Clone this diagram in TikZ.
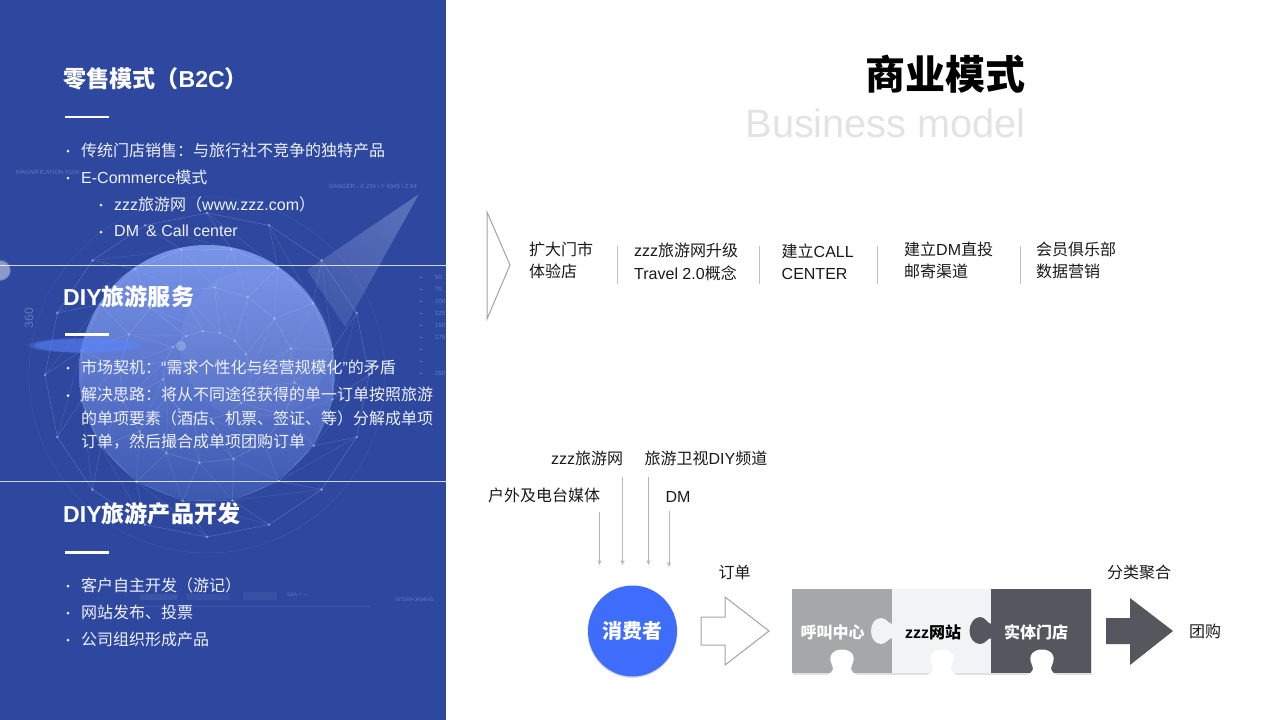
\documentclass[tikz,border=0pt]{standalone}
\usepackage{fontspec}
\setmainfont{Liberation Sans}
\newfontfamily\cjk{Noto Sans CJK SC}
\newcommand{\cj}[1]{{\cjk #1}}
\newcommand{\cb}[1]{{\cjk\bfseries #1}}
\usetikzlibrary{arrows.meta,shapes.geometric,calc,fadings}
\definecolor{panel}{HTML}{2E489F}
\definecolor{globeT}{HTML}{7995EA}
\definecolor{globeM}{HTML}{6581DB}
\definecolor{globeB}{HTML}{3D58AF}
\definecolor{netc}{HTML}{B9C9F5}
\definecolor{ink}{HTML}{1A1A1A}
\definecolor{rulec}{HTML}{BFC3C4}
\definecolor{arrowc}{HTML}{A0A3A6}
\definecolor{feedc}{HTML}{B4B8B8}
\definecolor{pgrey}{HTML}{A5A8A8}
\definecolor{plight}{HTML}{F1F3F4}
\definecolor{pdark}{HTML}{54575E}
\definecolor{blueb}{HTML}{3E6DFB}
\definecolor{soft}{HTML}{EEF1FA}
\tikzset{
  x=1pt,y=-1pt,
  lefttext/.style={text=soft,anchor=west,inner sep=0pt,font=\fontsize{16}{16}\selectfont},
  head/.style={text=white,anchor=west,inner sep=0pt,font=\fontsize{23.1}{24}\bfseries\selectfont},
  bul/.style={circle,fill=soft,inner sep=0pt,minimum size=3pt},
  dash bar/.style={draw=white,line width=2.6pt},
  sect/.style={draw=white,opacity=.78,line width=1.6pt},
  body/.style={text=ink,anchor=west,inner sep=0pt,font=\fontsize{16}{22.5}\selectfont,align=left},
  lab/.style={text=ink,anchor=center,inner sep=0pt,font=\fontsize{16}{16}\selectfont},
  sepl/.style={draw=rulec,line width=1pt},
  feed/.style={draw=feedc,line width=1pt,-{Stealth[length=5pt,width=4pt]}},
  tiny/.style={text=netc,opacity=.38,inner sep=0pt,font=\fontsize{6}{6}\selectfont},
  puz/.style={text=white,inner sep=0pt,font=\fontsize{16}{16}\bfseries\selectfont},
}
\begin{document}
\begin{tikzpicture}
\useasboundingbox (0,0) rectangle (1280,720);
\fill[white] (0,0) rectangle (1280,720);
% ---------- panel
\begin{scope}
\clip (0,0) rectangle (446,720);
\fill[panel] (0,0) rectangle (446,720);
\shade[top color=netc!50!panel,bottom color=netc!22!panel,shading angle=-35,opacity=.6] (419,194) -- (307,270) -- (345,327) -- cycle;
\shade[top color=globeT,middle color=globeM,bottom color=globeB] (207,373) circle[radius=128];
\fill[white,opacity=.04] (255,345) circle[radius=75];
% network
\foreach \r/\o in {162/0,128/11,88/5,44/17}{
  \foreach \a in {0,22.5,...,337.5}{
    \pgfmathsetmacro{\b}{\a+22.5}
    \draw[netc,opacity=.3,line width=.45pt] ($(207,375)+(\a+\o:\r)$) -- ($(207,375)+(\b+\o:\r)$);
    \fill[netc,opacity=.55] ($(207,375)+(\a+\o:\r)$) circle[radius=1.4];
  }
}
\foreach \ra/\oa/\rb/\ob in {162/0/128/11,128/11/88/5,88/5/44/17}{
  \foreach \a in {0,22.5,...,337.5}{
    \draw[netc,opacity=.24,line width=.45pt] ($(207,375)+(\a+\oa:\ra)$) -- ($(207,375)+(\a+\ob:\rb)$);
    \draw[netc,opacity=.18,line width=.4pt] ($(207,375)+(\a+\oa:\ra)$) -- ($(207,375)+(\a+22.5+\ob:\rb)$);
  }
}
\draw[netc,opacity=.10,line width=.5pt] (207,375) circle[radius=178];
\fill[color=blueb!85!white,opacity=.6,path fading=circle with fuzzy edge 20 percent] (85,345) ellipse[x radius=60,y radius=8];
\fill[white,opacity=.45,path fading=circle with fuzzy edge 20 percent] (0,270) circle[radius=11];
\fill[netc,opacity=.4] (181,346) circle[radius=5];
% faint instrument read-outs
\node[tiny,anchor=west] (mag) at (16,172) {MAGNIFICATION X100};
\node[tiny,anchor=west] (dng) at (329,186) {DANGER - X 234 \textbackslash{} Y 4345 \textbackslash{} Z 94};
\node[tiny,rotate=90,font=\fontsize{12}{12}\selectfont] (deg) at (29,318) {360};
\foreach \n/\t/\y in {a/50/277,b/75/289,c/100/301,d/125/313,e/150/325,f/175/337,g/250/373}{
  \node[tiny,anchor=west] (num\n) at (435,\y) {\t};
  \fill[netc,opacity=.35] (419.5,\y) rectangle (421.5,\y+1);
}
\foreach \y in {349,361}{\fill[netc,opacity=.35] (419.5,\y) rectangle (421.5,\y+1);}
\node[tiny,anchor=west,font=\fontsize{5}{5}\selectfont] (sea) at (287,595) {SEA = ---};
\node[tiny,anchor=west,font=\fontsize{5}{5}\selectfont] (inf) at (395,600) {INTERFORMING};
\fill[netc,opacity=.10] (140,594) rectangle (177,600);
\fill[netc,opacity=.07] (187,594) rectangle (230,600);
\fill[netc,opacity=.07] (243,592) rectangle (277,600);
\draw[netc,opacity=.12,line width=.7pt] (130,606.5) -- (370,606.5);
\draw[sect] (0,265.5) -- (446,265.5);
\draw[sect] (0,481.5) -- (446,481.5);
\end{scope}
% ---------- left text
\node[head] (h1) at (63,79) {\cb{零售模式（}B2C\cb{）}};
\draw[dash bar] (65,117) -- (109,117);
\node[bul] (b1) at (68,151) {};
\node[lefttext] (t1) at (81,150) {\cj{传统门店销售：与旅行社不竞争的独特产品}};
\node[bul] (b2) at (68,178) {};
\node[lefttext] (t2) at (81,177) {E-Commerce\cj{模式}};
\node[bul] (b3) at (101,205) {};
\node[lefttext] (t3) at (114,204) {zzz\cj{旅游网（}www.zzz.com\cj{）}};
\node[bul] (b4) at (101,232) {};
\node[lefttext] (t4) at (114,231) {DM \,\& Call center};
\node[head] (h2) at (63,296.5) {DIY\cb{旅游服务}};
\draw[dash bar] (65,334.5) -- (109,334.5);
\node[bul] (b5) at (68,368) {};
\node[lefttext] (t5) at (81,367.5) {\cj{市场契机：}“\cj{需求个性化与经营规模化}”\cj{的矛盾}};
\node[bul] (b6) at (68,395.5) {};
\node[lefttext,anchor=north west,align=left,font=\fontsize{16}{23.3}\selectfont] (t6) at (81,387) {\cj{解决思路：将从不同途径获得的单一订单按照旅游}\\\cj{的单项要素（酒店、机票、签证、等）分解成单项}\\\cj{订单，然后撮合成单项团购订单}};
\node[head] (h3) at (63,514) {DIY\cb{旅游产品开发}};
\draw[dash bar] (65,552.5) -- (109,552.5);
\node[bul] (b7) at (68,586) {};
\node[lefttext] (t7) at (81,585) {\cj{客户自主开发（游记）}};
\node[bul] (b8) at (68,613) {};
\node[lefttext] (t8) at (81,612) {\cj{网站发布、投票}};
\node[bul] (b9) at (68,640) {};
\node[lefttext] (t9) at (81,639) {\cj{公司组织形成产品}};
% ---------- title
\node[anchor=east,inner sep=0pt,text=black,font=\fontsize{40}{40}\selectfont] (title) at (1026,74) {\cb{商业模式}};
\node[anchor=east,inner sep=0pt,text=black!11,font=\fontsize{39.7}{40}\selectfont] (sub) at (1026,123) {Business model};
% ---------- top row
\draw[draw=arrowc,line width=1pt] (487,212) -- (510,265) -- (487,319) -- cycle;
\node[body] (s1) at (529,260.5) {\cj{扩大门市}\\\cj{体验店}};
\draw[sepl] (617,246) -- (617,284);
\node[body] (s2) at (634,262) {zzz\cj{旅游网升级}\\Travel 2.0\cj{概念}};
\draw[sepl] (759,246) -- (759,284);
\node[body] (s3) at (781.5,262) {\cj{建立}CALL\\CENTER};
\draw[sepl] (877,246) -- (877,284);
\node[body] (s4) at (904,260.5) {\cj{建立}DM\cj{直投}\\\cj{邮寄渠道}};
\draw[sepl] (1020,246) -- (1020,284);
\node[body] (s5) at (1036,260.5) {\cj{会员俱乐部}\\\cj{数据营销}};
% ---------- sources
\node[lab] (zw) at (587,458) {zzz\cj{旅游网}};
\node[lab] (ws) at (706,458) {\cj{旅游卫视}DIY\cj{频道}};
\node[lab] (hw) at (544,495) {\cj{户外及电台媒体}};
\node[lab] (dm) at (678,497) {DM};
\coordinate (c1) at (599.5,565);
\coordinate (c2) at (622.5,565);
\coordinate (c3) at (648.5,565);
\coordinate (c4) at (669,567);
\coordinate (o1) at (599.5,512);
\coordinate (o2) at (622.5,477);
\coordinate (o3) at (648.5,477);
\coordinate (o4) at (669,511);
\draw[feed] (o1) -- (c1);
\draw[feed] (o2) -- (c2);
\draw[feed] (o3) -- (c3);
\draw[feed] (o4) -- (c4);
% ---------- consumer
\fill[black!15] (632.5,632) ellipse[x radius=45,y radius=46];
\node[ellipse,fill=blueb,minimum width=89pt,minimum height=91pt,inner sep=0pt,text=white,font=\fontsize{20}{20}\selectfont] (cons) at (632.5,631) {\cb{消费者}};
\node[lab] (od) at (734.5,572) {\cj{订单}};
\draw[draw=arrowc,fill=white,line width=1pt] (701,617) -- (725,617) -- (725,597) -- (769,631) -- (725,665) -- (725,645) -- (701,645) -- cycle;
% ---------- puzzle
\fill[black!12] (793,590) rectangle (1092,674.5);
\fill[pgrey] (792,589) rectangle (892,673);
\fill[plight] (892,589) rectangle (991,673);
\fill[pdark] (991,589) rectangle (1091,673);
% knobs
\fill[plight] (892.5,624) .. controls (888,624) and (887,618) .. (881,618) .. controls (875,618) and (871,624) .. (871,631) .. controls (871,638) and (875,644) .. (881,644) .. controls (887,644) and (888,638) .. (892.5,638) -- cycle;
\fill[pdark] (991.5,624) .. controls (987,624) and (986,617) .. (980,617) .. controls (974,617) and (969.5,624) .. (969.5,631) .. controls (969.5,638) and (974,644) .. (980,644) .. controls (986,644) and (987,638) .. (991.5,638) -- cycle;
% bottom notches
\foreach \nx in {842,942,1042}{
  \fill[white] ({\nx-15},675) .. controls ({\nx-9},672) and ({\nx-8},669) .. ({\nx-10},665) .. controls ({\nx-15},655) and ({\nx-8},649.5) .. (\nx,649.5) .. controls ({\nx+8},649.5) and ({\nx+15},655) .. ({\nx+10},665) .. controls ({\nx+8},669) and ({\nx+9},672) .. ({\nx+15},675) -- cycle;
}
\node[puz] (p1) at (832.5,632) {\cb{呼叫中心}};
\node[puz,text=black] (p2) at (933,632) {zzz\cb{网站}};
\node[puz] (p3) at (1036,632) {\cb{实体门店}};
\node[lab] (fl) at (1139,572.5) {\cj{分类聚合}};
\fill[pdark] (1106,618) -- (1130,618) -- (1130,598) -- (1173,631) -- (1130,665) -- (1130,644) -- (1106,644) -- cycle;
\node[lab] (tg) at (1205,631.5) {\cj{团购}};
\end{tikzpicture}
\end{document}
